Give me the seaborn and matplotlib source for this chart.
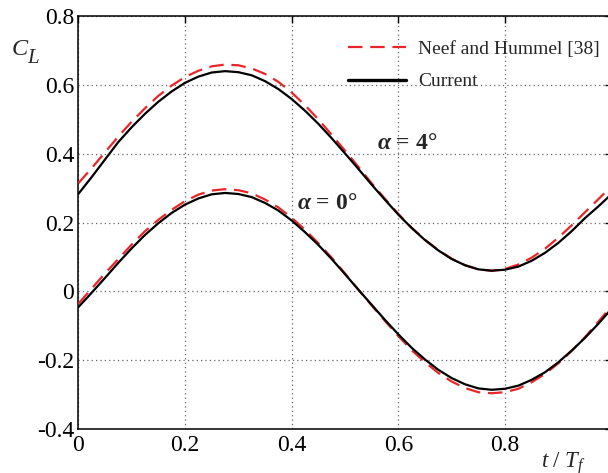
import numpy as np
import pandas as pd
import seaborn as sns
import matplotlib
matplotlib.use("Agg")
from matplotlib import pyplot as plt
from matplotlib.ticker import FuncFormatter

# t / T_f sample points
t = [0.000, 0.025, 0.050, 0.075, 0.100, 0.125, 0.150, 0.175, 0.200, 0.225,
     0.250, 0.275, 0.300, 0.325, 0.350, 0.375, 0.400, 0.425, 0.450, 0.475,
     0.500, 0.525, 0.550, 0.575, 0.600, 0.625, 0.650, 0.675, 0.700, 0.725,
     0.750, 0.775, 0.800, 0.825, 0.850, 0.875, 0.900, 0.925, 0.950, 0.975, 1.000]

# alpha = 4 deg
cur_a4 = [0.283, 0.332, 0.383, 0.434, 0.477, 0.516, 0.551, 0.581, 0.606, 0.624,
          0.636, 0.640, 0.637, 0.628, 0.611, 0.588, 0.559, 0.525, 0.487, 0.445,
          0.401, 0.356, 0.310, 0.266, 0.223, 0.184, 0.149, 0.119, 0.094, 0.076,
          0.064, 0.060, 0.063, 0.072, 0.089, 0.112, 0.141, 0.175, 0.213, 0.247, 0.283]
neef_a4 = [0.314, 0.358, 0.404, 0.450, 0.493, 0.532, 0.568, 0.598, 0.623, 0.641,
           0.654, 0.659, 0.657, 0.648, 0.632, 0.609, 0.578, 0.541, 0.500, 0.455,
           0.409, 0.362, 0.314, 0.269, 0.225, 0.185, 0.150, 0.120, 0.095, 0.076,
           0.064, 0.060, 0.065, 0.078, 0.098, 0.124, 0.156, 0.192, 0.230, 0.268, 0.306]

# alpha = 0 deg
cur_a0 = [-0.046, -0.004, 0.039, 0.083, 0.125, 0.164, 0.198, 0.228, 0.252, 0.270,
          0.282, 0.286, 0.283, 0.274, 0.257, 0.235, 0.206, 0.172, 0.135, 0.094,
          0.050, 0.005, -0.039, -0.083, -0.125, -0.164, -0.198, -0.228, -0.252, -0.270,
          -0.282, -0.286, -0.283, -0.274, -0.257, -0.235, -0.206, -0.172, -0.135, -0.094, -0.050]
neef_a0 = [-0.036, 0.008, 0.052, 0.094, 0.136, 0.175, 0.208, 0.237, 0.262, 0.281,
           0.293, 0.297, 0.294, 0.285, 0.267, 0.244, 0.214, 0.179, 0.140, 0.098,
           0.052, 0.005, -0.041, -0.086, -0.130, -0.171, -0.206, -0.237, -0.262, -0.281,
           -0.293, -0.296, -0.293, -0.283, -0.264, -0.240, -0.209, -0.173, -0.133, -0.088, -0.042]

xticks = [0, 0.2, 0.4, 0.6, 0.8, 1.0]
yticks = [-0.4, -0.2, 0, 0.2, 0.4, 0.6, 0.8]

sns.set_theme(style="white")
plt.rcParams['font.family'] = ['Liberation Serif', 'DejaVu Serif']
plt.rcParams['axes.unicode_minus'] = False
plt.rcParams['mathtext.fontset'] = 'custom'
plt.rcParams['mathtext.rm'] = 'Liberation Serif'
plt.rcParams['mathtext.it'] = 'Liberation Serif:italic'
plt.rcParams['mathtext.bf'] = 'Liberation Serif:bold'
plt.rcParams['mathtext.bfit'] = 'Liberation Serif:italic:bold'

red = '#e8262a'
fig = plt.figure(figsize=(6.08, 4.73), dpi=100)
ax = fig.add_axes([0.1288, 0.093, 0.8773, 0.873])

dash = (0, (6.5, 3.5))
sns.lineplot(x=t, y=neef_a4, ax=ax, color=red, lw=1.6, linestyle=dash,
             label='Neef and Hummel [38]', zorder=3)
sns.lineplot(x=t, y=neef_a0, ax=ax, color=red, lw=1.6, linestyle=dash, zorder=3)
sns.lineplot(x=t, y=cur_a4, ax=ax, color='black', lw=1.6, label='Current', zorder=4)
sns.lineplot(x=t, y=cur_a0, ax=ax, color='black', lw=1.6, zorder=4)

ax.set_xlim(0, 1)
ax.set_ylim(-0.4, 0.8)
ax.set_xticks(xticks)
ax.set_yticks(yticks)
fmt = FuncFormatter(lambda v, p: f'{v:g}')
ax.xaxis.set_major_formatter(fmt)
ax.yaxis.set_major_formatter(fmt)
ax.tick_params(direction='in', top=True, right=True, length=5, width=1,
               labelsize=17, color='black', labelcolor='black')
ax.tick_params(axis='x', pad=4)
ax.tick_params(axis='y', pad=3)
ax.grid(True, linestyle=(0, (1, 2.5)), color='0.4', lw=0.9)
for s in ax.spines.values():
    s.set_color('black')
    s.set_linewidth(1.1)

ax.text(0.616, 0.430, r'$\mathbfit{\alpha}$ = 4°', fontsize=17, fontweight='bold',
        ha='center', va='center')
ax.text(0.466, 0.254, r'$\mathbfit{\alpha}$ = 0°', fontsize=17, fontweight='bold',
        ha='center', va='center')

fig.text(12 / 608, 1 - 55 / 473, 'C', fontsize=17.5, style='italic', va='baseline')
fig.text(27.5 / 608, 1 - 63 / 473, 'L', fontsize=15, style='italic', va='baseline')
fig.text(563 / 608, 1 - 468 / 473, r'$t\ /\ T_f$', fontsize=16.5, ha='center', va='baseline')

leg = ax.legend(loc='upper left', bbox_to_anchor=(348 / 608, 0.914),
                bbox_transform=fig.transFigure, frameon=False, fontsize=14,
                handlelength=3.0, handletextpad=0.6, labelspacing=0.75,
                borderpad=0, borderaxespad=0)
leg.get_lines()[1].set_linewidth(2.4)

fig.savefig('out.png', dpi=100)
